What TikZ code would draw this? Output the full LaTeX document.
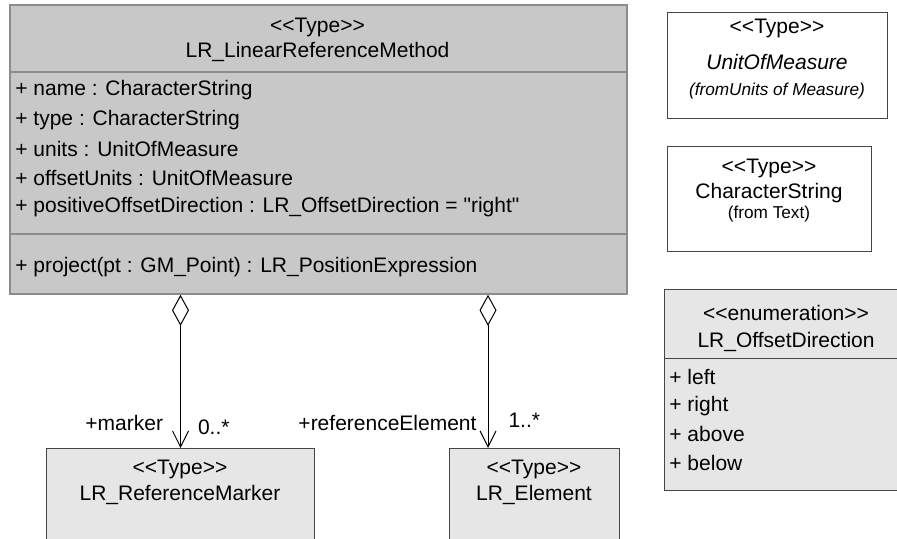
\documentclass[tikz,border=0pt]{standalone}
\usepackage{fontspec}
\setmainfont{Liberation Sans}
\newfontfamily\rawfont{Liberation Sans}
\usetikzlibrary{positioning}
\usetikzlibrary{calc}
\usetikzlibrary{arrows.meta}
\definecolor{umlgray}{RGB}{200,200,200}
\definecolor{umllight}{RGB}{230,230,230}
\definecolor{umlframe}{RGB}{140,140,140}
\definecolor{umldark}{RGB}{70,70,70}
\newcommand{\umlfont}{\fontsize{10.5}{12}\selectfont}
\newcommand{\umlsmall}{\fontsize{8.6}{10}\selectfont}
\newcommand{\guil}[1]{<\kern0pt<#1>\kern0pt>}
\tikzstyle{classbox} = [draw,
rectangle,
anchor=north west,
inner sep=0pt,
line width=0.5pt]
\tikzstyle{txt} = [inner sep=0pt,
font=\umlfont]
\tikzstyle{attr} = [txt,
anchor=west]
\tikzstyle{aggr} = [draw,
line width=0.5pt,
{Diamond[open,length=15.5pt,width=8.5pt,fill=white]}-{Straight Barb[length=8pt,width=8pt]}]

\begin{document}
\begin{tikzpicture}[x=0.5pt, y=-0.5pt, auto,
	sep/.style={draw=umlframe, line width=0.8pt}]
	\useasboundingbox (0,0) rectangle (897,539);
	%% Boxes
	\node [classbox, fill=umlgray, draw=umlframe, line width=0.9pt, minimum width=308.5pt, minimum height=144.5pt] (LRM) at (9,4) {};
	\node [classbox, fill=umllight, draw=umldark, minimum width=134pt, minimum height=50pt] (Marker) at (46,448) {};
	\node [classbox, fill=umllight, draw=umldark, minimum width=85pt, minimum height=50pt] (Element) at (449,448) {};
	\node [classbox, fill=white, draw=umldark, minimum width=110pt, minimum height=53pt] (UoM) at (667,12) {};
	\node [classbox, fill=white, draw=umldark, minimum width=102pt, minimum height=52.5pt] (CStr) at (667,146) {};
	\node [classbox, fill=umllight, draw=umldark, minimum width=122pt, minimum height=100.5pt] (OffDir) at (664,289) {};
	\draw [sep] (LRM.west |- 0,72) -- (LRM.east |- 0,72);
	\draw [sep] (LRM.west |- 0,234) -- (LRM.east |- 0,234);
	\draw [umldark, line width=0.5pt] (OffDir.west |- 0,358) -- (OffDir.east |- 0,358);
	%% LR_LinearReferenceMethod
	\node [txt] (LRMst) at (317.5,27) {\guil{Type}};
	\node [txt] (LRMname) at (317.5,52) {LR\_LinearReferenceMethod};
	\node [attr] (aName) at (15,90) {+ name : CharacterString};
	\node [attr] (aType) at (15,120) {+ type : CharacterString};
	\node [attr] (aUnits) at (15,149) {+ units : UnitOfMeasure};
	\node [attr] (aOffUnits) at (15,178) {+ offsetUnits : UnitOfMeasure};
	\node [attr] (aPosDir) at (15,207) {+ positiveOffsetDirection : LR\_OffsetDirection = {\rawfont"}right{\rawfont"}};
	\node [attr] (oProject) at (15,267) {+ project(pt : GM\_Point) : LR\_PositionExpression};
	%% Types on the right
	\node [txt] (UoMst) at (777,28) {\guil{Type}};
	\node [txt, font=\umlfont\itshape] (UoMname) at (777,62) {UnitOfMeasure};
	\node [txt, font=\umlsmall\itshape] (UoMpkg) at (777,91) {(fromUnits of Measure)};
	\node [txt] (CStrst) at (769,168) {\guil{Type}};
	\node [txt] (CStrname) at (769,193) {CharacterString};
	\node [txt, font=\umlsmall] (CStrpkg) at (769,214) {(from Text)};
	\node [txt] (OffDirst) at (786,313) {\guil{enumeration}};
	\node [txt] (OffDirname) at (786,342) {LR\_OffsetDirection};
	\node [attr] (dLeft) at (669,377) {+ left};
	\node [attr] (dRight) at (669,406) {+ right};
	\node [attr] (dAbove) at (669,434) {+ above};
	\node [attr] (dBelow) at (669,463) {+ below};
	%% Types below
	\node [txt] (Markerst) at (180,469) {\guil{Type}};
	\node [txt] (Markername) at (180,495) {LR\_ReferenceMarker};
	\node [txt] (Elementst) at (534,469) {\guil{Type}};
	\node [txt] (Elementname) at (534,495) {LR\_Element};
	%% Aggregations
	\coordinate (ElTop) at (488,448);
	\path [aggr] (LRM.south -| Marker.north) -- node [txt, pos=0.84, left=8.5pt] (MkRole) {+marker} node [txt, pos=0.865, right=8.5pt] (MkMult) {0..*} (Marker.north);
	\path [aggr] (LRM.south -| ElTop) -- node [txt, pos=0.84, left=5.5pt] (ElRole) {+referenceElement} node [txt, pos=0.82, right=10pt] (ElMult) {1..*} (ElTop);
\end{tikzpicture}
\end{document}
